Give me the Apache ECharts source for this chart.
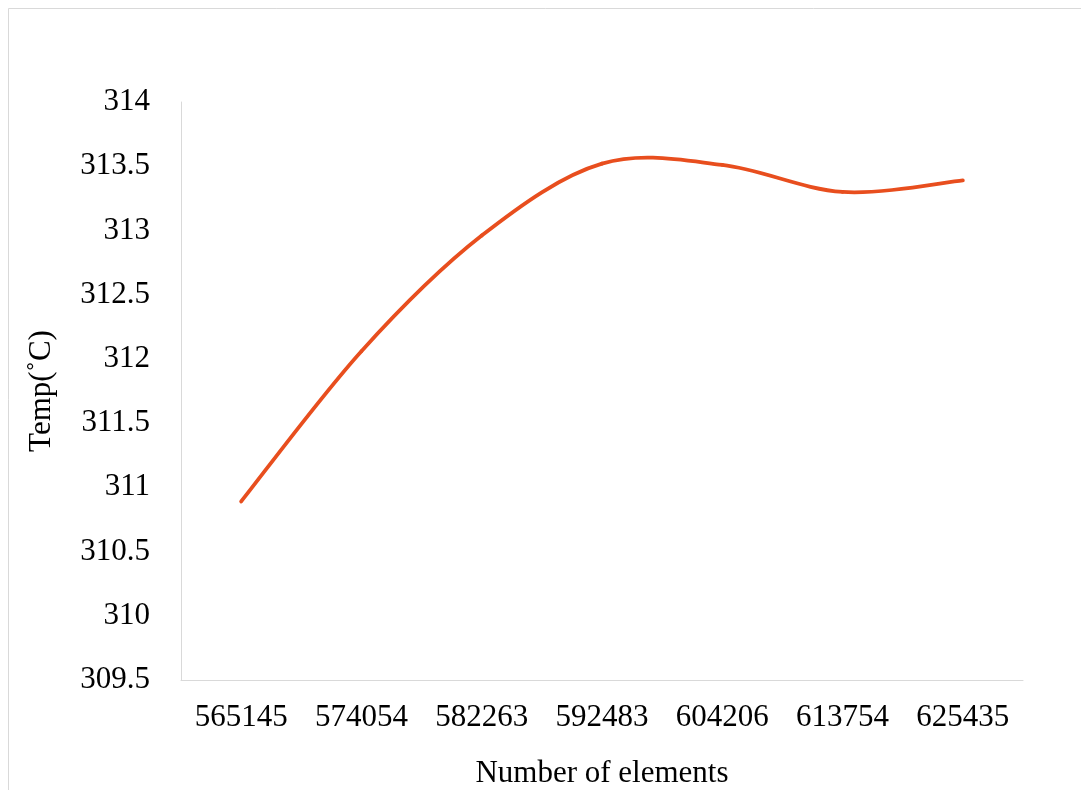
<!DOCTYPE html>
<html>
<head>
<meta charset="utf-8">
<script src="https://cdn.jsdelivr.net/npm/echarts@6/dist/echarts.min.js"></script>
<style>
html,body{margin:0;padding:0;background:#fff;}
#c{width:1081px;height:790px;}
</style>
</head>
<body>
<div id="c"></div>
<script>
const categories = ['565145','574054','582263','592483','604206','613754','625435'];
const temps = [310.89, 312.06, 312.96, 313.52, 313.51, 313.30, 313.39];
const yMin = 309.5, yMax = 314, yStep = 0.5;

const chart = echarts.init(document.getElementById('c'), null, {renderer:'canvas'});
const font = '"Liberation Serif", "Times New Roman", serif';
const lineColor = '#E84E1E';

// Smooth (Catmull-Rom style, like a spreadsheet smoothed line) drawn through the axis scales.
function renderSegment(params, api) {
  const i = params.dataIndex;
  const n = temps.length;
  if (i >= n - 1) return null;
  const p = k => api.coord([Math.max(0, Math.min(n - 1, k)), temps[Math.max(0, Math.min(n - 1, k))]]);
  const p0 = p(i - 1), p1 = p(i), p2 = p(i + 1), p3 = p(i + 2);
  const t = 1 / 6;
  return {
    type: 'bezierCurve',
    shape: {
      x1: p1[0], y1: p1[1],
      x2: p2[0], y2: p2[1],
      cpx1: p1[0] + (p2[0] - p0[0]) * t, cpy1: p1[1] + (p2[1] - p0[1]) * t,
      cpx2: p2[0] - (p3[0] - p1[0]) * t, cpy2: p2[1] - (p3[1] - p1[1]) * t
    },
    style: {stroke: lineColor, lineWidth: 3.75, fill: null, lineCap: 'round'},
    silent: true
  };
}

chart.setOption({
  backgroundColor: '#fff',
  animation: false,
  graphic: [{
    type: 'rect', silent: true,
    shape: {x: 8.5, y: 8.5, width: 1200, height: 900},
    style: {fill: 'none', stroke: '#d9d9d9', lineWidth: 1}
  }],
  grid: {left: 181, right: 58, top: 102, bottom: 110, outerBoundsMode: 'none', containLabel: false},
  xAxis: {
    type: 'category',
    data: categories,
    boundaryGap: true,
    name: 'Number of elements',
    nameLocation: 'middle',
    nameGap: 78,
    nameTextStyle: {fontFamily: font, fontSize: 31, color: '#000'},
    axisLine: {lineStyle: {color: '#d9d9d9', width: 1}},
    axisTick: {show: false},
    axisLabel: {fontFamily: font, fontSize: 31, color: '#000', margin: 22, interval: 0}
  },
  yAxis: {
    type: 'value',
    min: yMin, max: yMax, interval: yStep,
    name: 'Temp(˚C)',
    nameLocation: 'middle',
    nameRotate: 90,
    nameGap: 124,
    nameTextStyle: {fontFamily: font, fontSize: 31, color: '#000'},
    axisLine: {show: true, lineStyle: {color: '#d9d9d9', width: 1}},
    axisTick: {show: false},
    splitLine: {show: false},
    axisLabel: {fontFamily: font, fontSize: 31, color: '#000', margin: 31}
  },
  series: [{
    type: 'custom',
    data: temps.map((v, i) => [i, v]),
    encode: {x: 0, y: 1},
    renderItem: renderSegment,
    clip: false
  }]
});
</script>
</body>
</html>
